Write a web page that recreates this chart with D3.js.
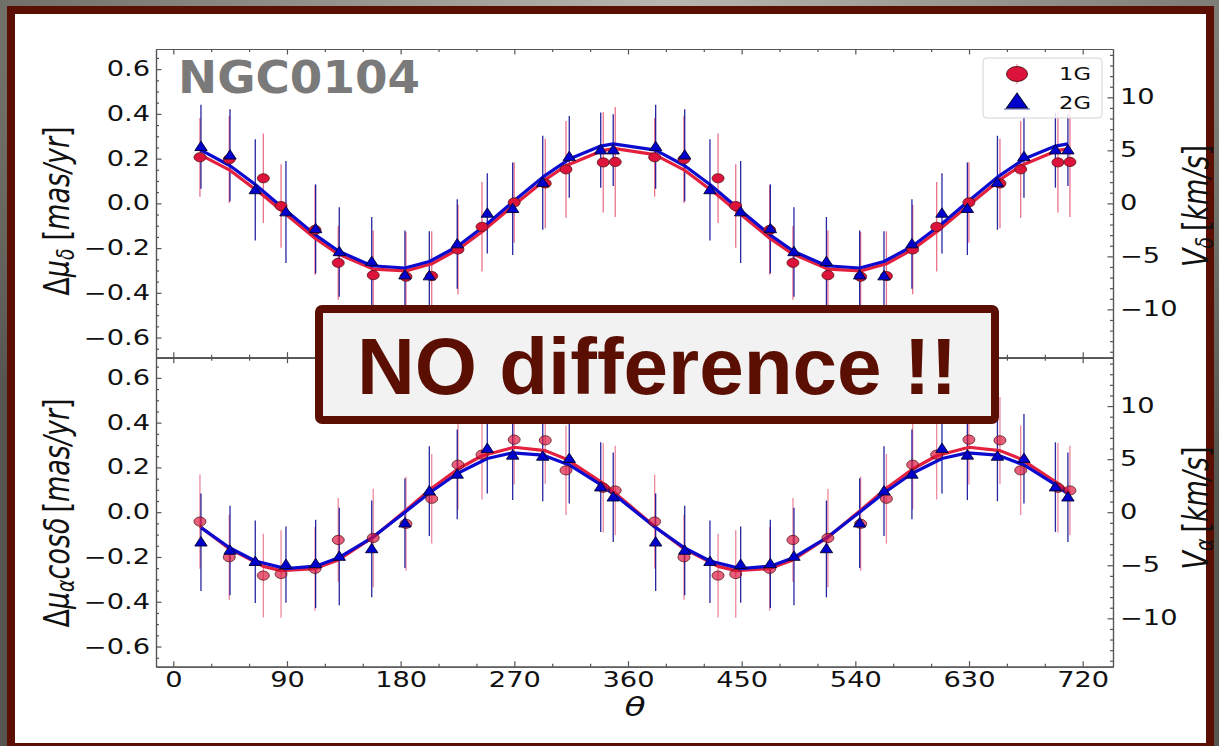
<!DOCTYPE html>
<html>
<head>
<meta charset="utf-8">
<script src="https://cdn.jsdelivr.net/npm/d3@7"></script>
<style>
  body { margin: 0; overflow: hidden; background: #5a5953; }
</style>
</head>
<body>
<svg id="chart" width="1219" height="746"></svg>
<script>
// position-angle bins (deg); every bin is shown twice, 0-360 and 360-720
const theta1G = [21.1, 44.3, 71.3, 85.3, 112.2, 130.6, 158.3, 184.2, 204.6, 225.4, 244.4, 269.9, 294.5, 310.9, 340.4, 349.9,
                 381.1, 404.3, 431.3, 445.3, 472.2, 490.6, 518.3, 544.2, 564.6, 585.4, 604.4, 629.9, 654.5, 670.9, 700.4, 709.9];
const theta2G = [21.9, 44.9, 64.9, 89.2, 112.7, 131.4, 157.1, 183.4, 202.7, 224.8, 248.6, 268.7, 292.5, 313.5, 338.4, 348.3,
                 381.9, 404.9, 424.9, 449.2, 472.7, 491.4, 517.1, 543.4, 562.7, 584.8, 608.6, 628.7, 652.5, 673.5, 698.4, 708.3];

// top panel: delta mu_delta (mas/yr)
const muDec1G  = [0.206, 0.197, 0.112, -0.012, -0.119, -0.266, -0.321, -0.328, -0.325, -0.206, -0.105, 0.004, 0.089, 0.152, 0.183, 0.185,
                  0.206, 0.197, 0.112, -0.012, -0.119, -0.266, -0.321, -0.328, -0.325, -0.206, -0.105, 0.004, 0.089, 0.152, 0.183, 0.185];
const errDec1G = [0.176, 0.195, 0.200, 0.187, 0.200, 0.165, 0.200, 0.200, 0.200, 0.200, 0.200, 0.180, 0.200, 0.216, 0.224, 0.246,
                  0.176, 0.195, 0.200, 0.187, 0.200, 0.165, 0.200, 0.200, 0.200, 0.200, 0.200, 0.180, 0.200, 0.216, 0.224, 0.246];
const fitDec1G = [0.218, 0.150, 0.035, -0.031, -0.156, -0.227, -0.294, -0.302, -0.270, -0.206, -0.127, -0.007, 0.106, 0.168, 0.237, 0.245,
                  0.218, 0.150, 0.035, -0.031, -0.156, -0.227, -0.294, -0.302, -0.270, -0.206, -0.127, -0.007, 0.106, 0.168, 0.237, 0.245];
const muDec2G  = [0.253, 0.215, 0.060, -0.039, -0.114, -0.217, -0.261, -0.321, -0.325, -0.182, -0.045, -0.024, 0.092, 0.208, 0.238, 0.238,
                  0.253, 0.215, 0.060, -0.039, -0.114, -0.217, -0.261, -0.321, -0.325, -0.182, -0.045, -0.024, 0.092, 0.208, 0.238, 0.238];
const errDec2G = [0.188, 0.206, 0.226, 0.228, 0.199, 0.200, 0.200, 0.200, 0.200, 0.200, 0.179, 0.207, 0.210, 0.183, 0.168, 0.160,
                  0.188, 0.206, 0.226, 0.228, 0.199, 0.200, 0.200, 0.200, 0.200, 0.200, 0.179, 0.207, 0.210, 0.183, 0.168, 0.160];
const fitDec2G = [0.238, 0.168, 0.084, -0.032, -0.142, -0.215, -0.279, -0.289, -0.260, -0.193, -0.091, 0.006, 0.117, 0.198, 0.256, 0.266,
                  0.238, 0.168, 0.084, -0.032, -0.142, -0.215, -0.279, -0.289, -0.260, -0.193, -0.091, 0.006, 0.117, 0.198, 0.256, 0.266];

// bottom panel: delta mu_alpha cos(delta) (mas/yr)
const muRa1G  = [-0.042, -0.201, -0.283, -0.276, -0.253, -0.124, -0.115, -0.052, 0.060, 0.212, 0.257, 0.324, 0.321, 0.187, 0.109, 0.097,
                 -0.042, -0.201, -0.283, -0.276, -0.253, -0.124, -0.115, -0.052, 0.060, 0.212, 0.257, 0.324, 0.321, 0.187, 0.109, 0.097];
const errRa1G = [0.210, 0.190, 0.187, 0.195, 0.187, 0.187, 0.220, 0.210, 0.200, 0.200, 0.200, 0.200, 0.194, 0.200, 0.200, 0.200,
                 0.210, 0.190, 0.187, 0.195, 0.187, 0.187, 0.220, 0.210, 0.200, 0.200, 0.200, 0.200, 0.194, 0.200, 0.200, 0.200];
const fitRa1G = [-0.064, -0.163, -0.242, -0.261, -0.252, -0.213, -0.112, 0.009, 0.107, 0.193, 0.252, 0.290, 0.275, 0.238, 0.129, 0.085,
                 -0.064, -0.163, -0.242, -0.261, -0.252, -0.213, -0.112, 0.009, 0.107, 0.193, 0.252, 0.290, 0.275, 0.238, 0.129, 0.085];
const muRa2G  = [-0.134, -0.171, -0.221, -0.234, -0.231, -0.198, -0.164, -0.049, 0.094, 0.169, 0.284, 0.254, 0.249, 0.239, 0.112, 0.067,
                 -0.134, -0.171, -0.221, -0.234, -0.231, -0.198, -0.164, -0.049, 0.094, 0.169, 0.284, 0.254, 0.249, 0.239, 0.112, 0.067];
const errRa2G = [0.218, 0.200, 0.184, 0.170, 0.197, 0.218, 0.216, 0.200, 0.200, 0.200, 0.200, 0.200, 0.200, 0.200, 0.200, 0.200,
                 0.218, 0.200, 0.184, 0.170, 0.197, 0.218, 0.216, 0.200, 0.200, 0.200, 0.200, 0.200, 0.200, 0.200, 0.200, 0.200];
const fitRa2G = [-0.069, -0.160, -0.218, -0.252, -0.241, -0.202, -0.115, 0.000, 0.086, 0.173, 0.240, 0.265, 0.255, 0.211, 0.123, 0.082,
                 -0.069, -0.160, -0.218, -0.252, -0.241, -0.202, -0.115, 0.000, 0.086, 0.173, 0.240, 0.265, 0.255, 0.211, 0.123, 0.082];

const thetaTicks = [0, 90, 180, 270, 360, 450, 540, 630, 720];
const thetaMinor = [30, 60, 120, 150, 210, 240, 300, 330, 390, 420, 480, 510, 570, 600, 660, 690];
const muTicks = [-0.6, -0.4, -0.2, 0.0, 0.2, 0.4, 0.6];
const muMinor = [-0.65, -0.55, -0.5, -0.45, -0.35, -0.3, -0.25, -0.15, -0.1, -0.05,
                 0.05, 0.1, 0.15, 0.25, 0.3, 0.35, 0.45, 0.5, 0.55, 0.65];
const velTicks = [-10, -5, 0, 5, 10];
const velMinor = [-14, -13, -12, -11, -9, -8, -7, -6, -4, -3, -2, -1, 1, 2, 3, 4, 6, 7, 8, 9, 11, 12, 13, 14];
const kmsPerMas = 21.1; // 4.74 * distance

const SX = 1.33;           // the original figure is stretched sideways
const red = "#dc143c", blue = "#0000cd", frame = "#5b0f03";
const fmtMu = d3.format(".1f"), fmtV = d3.format("d");

const svg = d3.select("#chart");

// backdrop and frame
const defs = svg.append("defs");
const rg = defs.append("radialGradient").attr("id", "bg").attr("cx", "55%").attr("cy", "0%").attr("r", "75%");
rg.append("stop").attr("offset", "0%").attr("stop-color", "#b8b8b0");
rg.append("stop").attr("offset", "100%").attr("stop-color", "#56554f");
svg.append("rect").attr("width", 1219).attr("height", 746).attr("fill", "url(#bg)");
svg.append("rect").attr("x", 11).attr("y", 10).attr("width", 1199).attr("height", 737)
  .attr("fill", "#fff").attr("stroke", frame).attr("stroke-width", 8);

const x = d3.scaleLinear().domain([-13.7, 744]).range([156, 1113]);
const yTop = d3.scaleLinear().domain([-0.69, 0.69]).range([357.7, 49]);
const yBot = d3.scaleLinear().domain([-0.69, 0.69]).range([666.7, 357.7]);
const vTop = d3.scaleLinear().domain([-0.69 * kmsPerMas, 0.69 * kmsPerMas]).range([357.7, 49]);
const vBot = d3.scaleLinear().domain([-0.69 * kmsPerMas, 0.69 * kmsPerMas]).range([666.7, 357.7]);

function stretchText(sel) {
  sel.each(function () {
    const t = d3.select(this);
    const tx = +t.attr("x") || 0;
    t.attr("transform", `translate(${tx},0) scale(${SX},1) translate(${-tx},0)`);
  });
}

function drawAxis(gen, scale, major, minor, fmt, pad, tx, ty) {
  const g = svg.append("g").attr("transform", `translate(${tx},${ty})`);
  g.call(gen(scale).tickValues(minor).tickSize(-3).tickSizeOuter(0).tickFormat(""));
  const gm = svg.append("g").attr("transform", `translate(${tx},${ty})`);
  gm.call(gen(scale).tickValues(major).tickSize(-5.5).tickSizeOuter(0).tickPadding(pad)
    .tickFormat(fmt || ""));
  [g, gm].forEach(s => {
    s.selectAll("path, line").attr("stroke", "#555").attr("stroke-width", 1.2);
  });
  gm.selectAll("text").attr("font-family", "DejaVu Sans").attr("font-size", 20.5).attr("fill", "#111")
    .call(stretchText);
  return gm;
}

// top panel axes
drawAxis(d3.axisLeft, yTop, muTicks, muMinor, fmtMu, 6, 156, 0);
drawAxis(d3.axisRight, vTop, velTicks, velMinor, fmtV, 7, 1113, 0);
drawAxis(d3.axisTop, x, thetaTicks, thetaMinor, null, 6, 0, 49);
drawAxis(d3.axisBottom, x, thetaTicks, thetaMinor, null, 6, 0, 357.7);
// bottom panel axes
drawAxis(d3.axisLeft, yBot, muTicks, muMinor, fmtMu, 6, 156, 0);
drawAxis(d3.axisRight, vBot, velTicks, velMinor, fmtV, 7, 1113, 0);
drawAxis(d3.axisTop, x, thetaTicks, thetaMinor, null, 6, 0, 357.7);
drawAxis(d3.axisBottom, x, thetaTicks, thetaMinor, d3.format("d"), 6, 0, 666.7);

const triPath = "M0,-5.6L6.2,3.8L-6.2,3.8Z";

function drawPanel(y, s1, s2) {
  const g = svg.append("g");
  // error bars
  [s1, s2].forEach(s => {
    g.append("g").selectAll("line").data(s.theta).join("line")
      .attr("x1", d => x(d)).attr("x2", d => x(d))
      .attr("y1", (d, i) => y(s.mu[i] + s.err[i]))
      .attr("y2", (d, i) => y(s.mu[i] - s.err[i]))
      .attr("stroke", s.barColor).attr("stroke-opacity", s.barOpacity).attr("stroke-width", 1.3);
  });
  // fitted curves
  [s1, s2].forEach(s => {
    g.append("path")
      .datum(s.theta.map((t, i) => [t, s.fit[i]]))
      .attr("fill", "none").attr("stroke", s.lineColor).attr("stroke-width", 3.2)
      .attr("stroke-linejoin", "round")
      .attr("d", d3.line().x(d => x(d[0])).y(d => y(d[1])));
  });
  // 1G circles
  g.append("g").selectAll("ellipse").data(s1.theta).join("ellipse")
    .attr("cx", d => x(d)).attr("cy", (d, i) => y(s1.mu[i]))
    .attr("rx", 6).attr("ry", 4.6)
    .attr("fill", red).attr("fill-opacity", s1.markOpacity)
    .attr("stroke", "#4a1010").attr("stroke-opacity", 0.8).attr("stroke-width", 0.9);
  // 2G triangles
  g.append("g").selectAll("path").data(s2.theta).join("path")
    .attr("transform", (d, i) => `translate(${x(d)},${y(s2.mu[i])})`)
    .attr("d", triPath)
    .attr("fill", blue).attr("stroke", "#000030").attr("stroke-width", 0.9);
}

drawPanel(yTop,
  { theta: theta1G, mu: muDec1G, err: errDec1G, fit: fitDec1G, barColor: red, barOpacity: 0.6, lineColor: "#e3213f", markOpacity: 1 },
  { theta: theta2G, mu: muDec2G, err: errDec2G, fit: fitDec2G, barColor: "#000090", barOpacity: 0.85, lineColor: "#0b0bd0" });
drawPanel(yBot,
  { theta: theta1G, mu: muRa1G, err: errRa1G, fit: fitRa1G, barColor: red, barOpacity: 0.5, lineColor: "#e3213f", markOpacity: 0.68 },
  { theta: theta2G, mu: muRa2G, err: errRa2G, fit: fitRa2G, barColor: "#000090", barOpacity: 0.85, lineColor: "#0b0bd0" });

// cluster name
svg.append("text").attr("x", 178).attr("y", 92.5)
  .attr("font-family", "DejaVu Sans").attr("font-weight", "bold").attr("font-size", 45)
  .attr("fill", "#7a7a7a").attr("textLength", 242).attr("lengthAdjust", "spacingAndGlyphs")
  .text("NGC0104");

// legend
const lg = svg.append("g");
lg.append("rect").attr("x", 983).attr("y", 58).attr("width", 119).attr("height", 60).attr("rx", 4)
  .attr("fill", "#fff").attr("fill-opacity", 0.85).attr("stroke", "#d4d4d4");
lg.append("line").attr("x1", 1017).attr("x2", 1017).attr("y1", 64).attr("y2", 84)
  .attr("stroke", red).attr("stroke-opacity", 0.6);
lg.append("ellipse").attr("cx", 1017).attr("cy", 74).attr("rx", 10.5).attr("ry", 7.5)
  .attr("fill", red).attr("stroke", "#4a1010").attr("stroke-width", 0.9);
lg.append("line").attr("x1", 1004).attr("x2", 1030).attr("y1", 109).attr("y2", 109)
  .attr("stroke", "#000090").attr("stroke-opacity", 0.7);
lg.append("path").attr("transform", "translate(1017,102) scale(1.7,1.6)").attr("d", triPath)
  .attr("fill", blue).attr("stroke", "#000030").attr("stroke-width", 0.6);
[["1G", 80], ["2G", 109]].forEach(([t, yy]) => {
  lg.append("text").attr("x", 1059).attr("y", yy).attr("font-family", "DejaVu Sans")
    .attr("font-size", 17).attr("fill", "#111").text(t).call(stretchText);
});

// axis titles
function vLabel(cx, cy, parts, size) {
  const t = svg.append("text")
    .attr("transform", `translate(${cx},${cy}) scale(${SX},1) rotate(-90)`)
    .attr("text-anchor", "middle").attr("dominant-baseline", "central")
    .attr("font-family", "DejaVu Sans").attr("font-size", size).attr("fill", "#111");
  parts.forEach(p => {
    const s = t.append("tspan").text(p.t);
    if (p.it) s.attr("font-style", "italic");
    if (p.sub) s.attr("font-size", size * 0.7);
    if (p.dy) s.attr("dy", p.dy);
    if (p.dx) s.attr("dx", p.dx);
  });
}
vLabel(57, 211, [{ t: "Δ" }, { t: "μ", it: 1 }, { t: "δ", it: 1, sub: 1, dy: 6 },
  { t: "[", dy: -6, dx: 8 }, { t: "mas/yr", it: 1 }, { t: "]" }], 27);
vLabel(57, 513, [{ t: "Δ" }, { t: "μ", it: 1 }, { t: "α", it: 1, sub: 1, dy: 6 },
  { t: "cosδ", it: 1, dy: -6 }, { t: "[", dx: 5 }, { t: "mas/yr", it: 1 }, { t: "]" }], 27);
vLabel(1196, 206, [{ t: "V", it: 1 }, { t: "δ", it: 1, sub: 1, dy: 6 },
  { t: "[", dy: -6, dx: 6 }, { t: "km/s", it: 1 }, { t: "]" }], 27);
vLabel(1196, 508, [{ t: "V", it: 1 }, { t: "α", it: 1, sub: 1, dy: 6 },
  { t: "[", dy: -6, dx: 6 }, { t: "km/s", it: 1 }, { t: "]" }], 27);

svg.append("text").attr("x", 635).attr("y", 716).attr("text-anchor", "middle")
  .attr("font-family", "DejaVu Sans").attr("font-style", "italic").attr("font-size", 26)
  .attr("fill", "#111").text("θ").call(stretchText);

// overlay box
svg.append("rect").attr("x", 319).attr("y", 309).attr("width", 676).attr("height", 111).attr("rx", 3)
  .attr("fill", "#f2f2f2").attr("stroke", frame).attr("stroke-width", 8);
svg.append("text").attr("x", 657).attr("y", 394).attr("text-anchor", "middle")
  .attr("font-family", "Liberation Sans, Arial, sans-serif").attr("font-weight", "bold")
  .attr("font-size", 80).attr("fill", frame).text("NO difference !!");
</script>
</body>
</html>
